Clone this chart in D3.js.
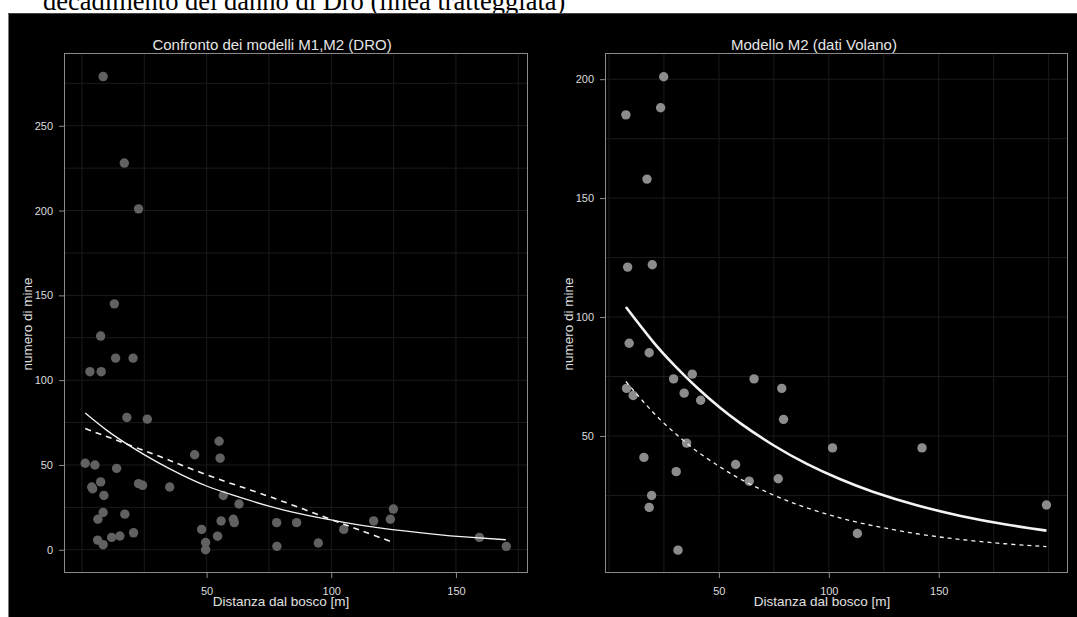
<!DOCTYPE html>
<html>
<head>
<meta charset="utf-8">
<script src="https://cdn.jsdelivr.net/npm/d3@7/dist/d3.min.js"></script>
<style>
  html, body { margin: 0; padding: 0; background: #fff; }
  svg { display: block; }
</style>
</head>
<body>
<svg id="chart" width="1077" height="617"></svg>
<script>
// ---------------- DATA ----------------
const headerText = "decadimento del danno di Dro (linea tratteggiata)";
const titleLeft = "Confronto dei modelli M1,M2 (DRO)";
const titleRight = "Modello M2 (dati Volano)";
const xLabel = "Distanza dal bosco [m]";
const yLabel = "numero di mine";

// Left panel (DRO) observations: [distance, mines]
const droX = [8.5, 17, 22.7, 13, 7.5, 3.2, 7.7, 13.5, 20.5, 18, 26.2, 1.3, 5.2, 13.9, 3.9, 4.3, 7.5, 8.8,
  22.7, 24.3, 35.2, 8.5, 6.4, 17.2, 20.7, 6.3, 8.5, 11.9, 15.2, 45.2, 55, 55.4, 56.7, 63, 55.8, 60.7,
  61.1, 48, 49.6, 49.6, 54.4, 78.1, 78.2, 86.1, 94.8, 105, 117, 123.7, 124.9, 159.4, 170.2];
const droY = [279, 228, 201, 145, 126, 105, 105, 113, 113, 78, 77, 51, 50, 48, 37, 36, 40, 32,
  39, 38, 37, 22, 18, 21, 10, 5.7, 3, 7.3, 8.1, 56, 64, 54, 32, 27, 17, 18,
  16, 12, 4.3, 0, 8, 16, 2, 16, 4, 12, 17, 18, 24, 7.3, 2];

// Left panel fitted curves (M1 solid, M2 dashed)
const droFitSolidX = [1.3, 10, 20, 30, 40, 50, 60, 75, 90, 105, 120, 140, 155, 170];
const droFitSolidY = [80.6, 70.4, 60.5, 51.8, 44.2, 37.6, 32.5, 25.7, 20.4, 16.2, 12.8, 9.4, 7.4, 5.9];
const droFitDashX = [1.3, 20, 35, 50, 65, 80, 100, 112, 124.9];
const droFitDashY = [71.5, 61.2, 52.8, 44.2, 36.5, 28.8, 17.8, 11.3, 4.3];

// Right panel (Volano) observations
const volX = [24.9, 7.7, 23.5, 17.3, 8.5, 19.7, 9.2, 18.3, 29.4, 37.9, 8, 11, 34.2, 41.7, 66, 78.6,
  79.4, 35.3, 15.9, 57.6, 30.6, 63.8, 77, 19.4, 18.3, 31.4, 101.7, 142.4, 113, 199];
const volY = [201, 185, 188, 158, 121, 122, 89, 85, 74, 76, 70, 67, 68, 65, 74, 70,
  57, 47, 41, 38, 35, 31, 32, 25, 20, 2, 45, 45, 9, 21];

// Right panel fitted curves
const volFitSolidX = [7.7, 20, 30, 40, 50, 60, 75, 90, 105, 120, 140, 160, 180, 199];
const volFitSolidY = [104.2, 89.7, 79.5, 70.4, 62.3, 55.2, 46.0, 38.3, 31.9, 26.6, 20.9, 16.4, 12.9, 10.2];
const volFitDashX = [7.7, 20, 30, 40, 50, 60, 75, 90, 105, 120, 140, 160, 180, 199];
const volFitDashY = [72.9, 60.0, 51.2, 43.6, 37.3, 31.8, 25.1, 19.8, 15.6, 12.3, 8.9, 6.5, 4.7, 3.5];

// Axis extents and ticks
const leftXDomain = [-7.2, 178.9];
const leftYDomain = [-13.7, 292.9];
const rightXDomain = [-1.8, 208.8];
const rightYDomain = [-7.6, 211];
const leftXTicks = [50, 100, 150];
const leftYTicks = [0, 50, 100, 150, 200, 250];
const rightXTicks = [50, 100, 150];
const rightYTicks = [50, 100, 150, 200];
const leftGridX = [0, 25, 50, 75, 100, 125, 150, 175];
const leftGridY = [0, 25, 50, 75, 100, 125, 150, 175, 200, 225, 250, 275];
const rightGridX = [0, 25, 50, 75, 100, 125, 150, 175, 200];
const rightGridY = [25, 50, 75, 100, 125, 150, 175, 200];

// ---------------- DRAW ----------------
const svg = d3.select("#chart");
const FONT = "'Liberation Sans', Arial, Helvetica, sans-serif";

svg.append("rect").attr("x", 0).attr("y", 0).attr("width", 1077).attr("height", 617).attr("fill", "#fff");
svg.append("text")
  .attr("x", 43).attr("y", 10)
  .attr("font-family", "'Liberation Serif', 'Times New Roman', serif")
  .attr("font-size", 26.5)
  .attr("fill", "#000")
  .text(headerText);
svg.append("rect").attr("x", 8).attr("y", 13).attr("width", 1077 - 8).attr("height", 617 - 13)
  .attr("fill", "#000");
svg.append("line").attr("x1", 8.5).attr("x2", 8.5).attr("y1", 13).attr("y2", 617)
  .attr("stroke", "#777").attr("stroke-width", 1);
svg.append("line").attr("x1", 8).attr("x2", 1077).attr("y1", 13.5).attr("y2", 13.5)
  .attr("stroke", "#444").attr("stroke-width", 1);

function panel(cfg) {
  const g = svg.append("g");
  const x = d3.scaleLinear().domain(cfg.xDomain).range([cfg.left, cfg.right]);
  const y = d3.scaleLinear().domain(cfg.yDomain).range([cfg.bottom, cfg.top]);

  // grid
  g.append("g").selectAll("line").data(cfg.gridX).join("line")
    .attr("x1", d => x(d)).attr("x2", d => x(d))
    .attr("y1", cfg.top).attr("y2", cfg.bottom)
    .attr("stroke", "#1b1b1b").attr("stroke-width", 1);
  g.append("g").selectAll("line").data(cfg.gridY).join("line")
    .attr("x1", cfg.left).attr("x2", cfg.right)
    .attr("y1", d => y(d)).attr("y2", d => y(d))
    .attr("stroke", "#1b1b1b").attr("stroke-width", 1);

  // points
  g.append("g").selectAll("circle").data(cfg.px.map((d, i) => [d, cfg.py[i]])).join("circle")
    .attr("cx", d => x(d[0])).attr("cy", d => y(d[1]))
    .attr("r", 4.7).attr("fill", cfg.pointColor);

  // curves
  const line = d3.line().x(d => x(d[0])).y(d => y(d[1])).curve(d3.curveNatural);
  g.append("path").datum(cfg.dashX.map((d, i) => [d, cfg.dashY[i]]))
    .attr("d", line).attr("fill", "none").attr("stroke", "#f2f2f2")
    .attr("stroke-width", cfg.dashWidth).attr("stroke-dasharray", cfg.dashArray);
  g.append("path").datum(cfg.solidX.map((d, i) => [d, cfg.solidY[i]]))
    .attr("d", line).attr("fill", "none").attr("stroke", "#f4f4f4")
    .attr("stroke-width", cfg.solidWidth);

  // box
  g.append("rect").attr("x", cfg.left + 0.5).attr("y", cfg.top + 0.5)
    .attr("width", cfg.right - cfg.left - 1).attr("height", cfg.bottom - cfg.top - 1)
    .attr("fill", "none").attr("stroke", "#8a8a8a").attr("stroke-width", 1);

  // axes
  const xAxis = d3.axisBottom(x).tickValues(cfg.xTicks).tickSize(5).tickPadding(9).tickFormat(d3.format("d"));
  const gx = g.append("g").attr("transform", `translate(0,${cfg.bottom})`).call(xAxis);
  gx.select(".domain").remove();
  gx.selectAll(".tick line").attr("stroke", "#8a8a8a");
  gx.selectAll(".tick text").attr("fill", "#dcdcdc").attr("font-family", FONT).attr("font-size", 11);

  const yAxis = d3.axisLeft(y).tickValues(cfg.yTicks).tickSize(5).tickPadding(6).tickFormat(d3.format("d"));
  const gy = g.append("g").attr("transform", `translate(${cfg.left},0)`).call(yAxis);
  gy.select(".domain").remove();
  gy.selectAll(".tick line").attr("stroke", "#8a8a8a");
  gy.selectAll(".tick text").attr("fill", "#dcdcdc").attr("font-family", FONT).attr("font-size", 11);

  // titles & labels
  g.append("text").attr("x", cfg.titleX).attr("y", 50)
    .attr("text-anchor", "middle").attr("font-family", FONT).attr("font-size", 15)
    .attr("fill", "#e6e6e6").text(cfg.title);
  g.append("text").attr("x", cfg.xLabelX).attr("y", 606)
    .attr("text-anchor", "middle").attr("font-family", FONT).attr("font-size", 13.5)
    .attr("fill", "#e0e0e0").text(xLabel);
  g.append("text")
    .attr("transform", `translate(${cfg.yLabelX},324) rotate(-90)`)
    .attr("text-anchor", "middle").attr("dy", "0.35em")
    .attr("font-family", FONT).attr("font-size", 13.5)
    .attr("fill", "#e0e0e0").text(yLabel);
}

panel({
  left: 64, right: 528, top: 53, bottom: 573,
  xDomain: leftXDomain, yDomain: leftYDomain,
  gridX: leftGridX, gridY: leftGridY,
  xTicks: leftXTicks, yTicks: leftYTicks,
  px: droX, py: droY, pointColor: "#616161",
  solidX: droFitSolidX, solidY: droFitSolidY, solidWidth: 1.3,
  dashX: droFitDashX, dashY: droFitDashY, dashWidth: 1.6, dashArray: "6,5",
  title: titleLeft, titleX: 272, xLabelX: 281, yLabelX: 27
});

panel({
  left: 605, right: 1068, top: 53, bottom: 573,
  xDomain: rightXDomain, yDomain: rightYDomain,
  gridX: rightGridX, gridY: rightGridY,
  xTicks: rightXTicks, yTicks: rightYTicks,
  px: volX, py: volY, pointColor: "#8c8c8c",
  solidX: volFitSolidX, solidY: volFitSolidY, solidWidth: 2.6,
  dashX: volFitDashX, dashY: volFitDashY, dashWidth: 1.3, dashArray: "4,4",
  title: titleRight, titleX: 814, xLabelX: 822, yLabelX: 568
});
</script>
</body>
</html>
